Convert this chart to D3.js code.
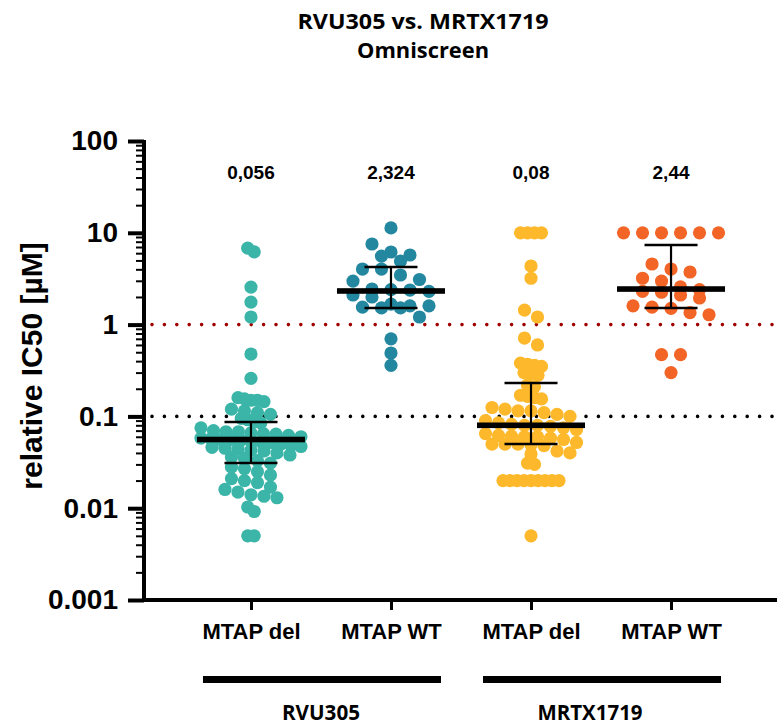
<!DOCTYPE html>
<html><head><meta charset="utf-8">
<script src="https://cdn.jsdelivr.net/npm/d3@7"></script>
<style>body{margin:0;background:#fff}svg{display:block}</style>
</head><body><svg id="chart" width="777" height="725"></svg>
<script>
// ---------- data ----------
const titleLines = ["RVU305 vs. MRTX1719", "Omniscreen"];
const yLabel = "relative IC50 [µM]";
const categories = ["MTAP del", "MTAP WT", "MTAP del", "MTAP WT"];
const drugs = ["RVU305", "MRTX1719"];
const drugOfGroup = [0, 0, 1, 1];
const medianLabels = ["0,056", "2,324", "0,08", "2,44"];
const medians = [0.056, 2.324, 0.08, 2.44];
const q1 = [0.031, 1.52, 0.05, 1.52];
const q3 = [0.087, 4.24, 0.231, 7.36];
const yTicks = [0.001, 0.01, 0.1, 1, 10, 100];
const yTickLabels = ["0.001", "0.01", "0.1", "1", "10", "100"];
const refLines = [1, 0.1];
const colors = ["#3bb5a8", "#22879f", "#fdb92b", "#f26526"];

const rvuDel = [6.8, 6.2, 2.56, 1.76, 1.21, 0.478, 0.26,
  0.16, 0.155, 0.15, 0.15, 0.145,
  0.12, 0.115, 0.11, 0.105,
  0.095, 0.092, 0.088, 0.085,
  0.075, 0.07, 0.068, 0.068, 0.066, 0.065, 0.064, 0.062,
  0.06, 0.058, 0.057, 0.056, 0.056, 0.055, 0.054, 0.053, 0.052, 0.05,
  0.048, 0.047, 0.046, 0.045, 0.044, 0.043, 0.042,
  0.04, 0.038, 0.036, 0.035, 0.033, 0.031,
  0.028, 0.027, 0.025, 0.023,
  0.021, 0.02, 0.019, 0.017, 0.016, 0.015,
  0.014, 0.0135, 0.013,
  0.0103, 0.0092,
  0.005, 0.005];
const rvuWt = [11.3, 7.55, 6.18, 5.73, 5.58, 4.93, 4.03, 4.03, 3.47, 3.1, 2.98,
  2.44, 2.4, 2.38, 2.3, 2.1, 2.0, 1.67, 1.6, 1.6, 1.55, 1.52, 1.52,
  1.21, 0.70, 0.49, 0.36];
const mrtxDel = [10, 10, 10, 10, 4.35, 3.2, 1.44, 1.21, 0.714, 0.60,
  0.38, 0.37, 0.36, 0.35,
  0.30, 0.29, 0.28,
  0.22, 0.21,
  0.17, 0.165, 0.16, 0.155,
  0.125, 0.12, 0.115, 0.115, 0.11, 0.105, 0.1,
  0.09, 0.085, 0.082, 0.08, 0.08, 0.078, 0.075, 0.072,
  0.065, 0.062, 0.061, 0.06, 0.06, 0.058, 0.056,
  0.052, 0.05, 0.05, 0.05, 0.049, 0.048,
  0.042, 0.04, 0.039,
  0.031, 0.03,
  0.02, 0.02, 0.02, 0.02, 0.02, 0.02, 0.02, 0.02, 0.02,
  0.005];
const mrtxWt = [10, 10, 10, 10, 10, 10,
  4.57, 4.03, 3.74, 3.2, 2.98, 2.57,
  2.4, 2.3, 2.25, 2.1, 1.95,
  1.6, 1.55, 1.5, 1.35, 1.28,
  0.47, 0.47, 0.30];
const groups = [rvuDel, rvuWt, mrtxDel, mrtxWt];

// ---------- layout ----------
const W = 777, H = 725;
const svg = d3.select("#chart");
svg.append("rect").attr("width", W).attr("height", H).attr("fill", "#fff");

const axisX0 = 144, axisX1 = 778, axisY = 600;
const y = d3.scaleLog().domain([0.001, 100]).range([600, 141]);
const x = d3.scalePoint().domain(d3.range(categories.length)).range([axisX0, axisX1]).padding(0.764);

const sansBold = "'Liberation Sans', Arial, sans-serif";

// title
svg.append("g").selectAll("text").data(titleLines).join("text")
  .attr("x", 423).attr("y", (d, i) => 29 + i * 29)
  .attr("text-anchor", "middle")
  .attr("font-family", "'Open Sans', sans-serif").attr("font-weight", 700)
  .attr("font-size", 21)
  .attr("textLength", (d, i) => i === 0 ? 251 : 132).attr("lengthAdjust", "spacingAndGlyphs")
  .text(d => d);

// reference dotted lines
svg.append("g").selectAll("line").data(refLines).join("line")
  .attr("x1", axisX0 + 8).attr("x2", W)
  .attr("y1", d => y(d)).attr("y2", d => y(d))
  .attr("stroke", (d, i) => i === 0 ? "#a00000" : "#000")
  .attr("stroke-width", 3.6).attr("stroke-linecap", "round")
  .attr("stroke-dasharray", "0 12.4");

// y axis minor ticks
const minor = [];
for (let e = -3; e < 2; e++) for (let m = 2; m <= 9; m++) minor.push(m * Math.pow(10, e));
const gMinor = svg.append("g").attr("transform", `translate(${axisX0},0)`)
  .call(d3.axisLeft(y).tickValues(minor).tickSize(8).tickSizeOuter(0).tickFormat(""));
gMinor.select(".domain").remove();
gMinor.selectAll(".tick line").attr("stroke", "#000").attr("stroke-width", 2);

const gY = svg.append("g").attr("transform", `translate(${axisX0},0)`)
  .call(d3.axisLeft(y).tickValues(yTicks).tickSize(16).tickSizeOuter(0)
    .tickPadding(10).tickFormat((d, i) => yTickLabels[i]));
gY.select(".domain").attr("stroke", "#000").attr("stroke-width", 4)
  .attr("d", `M0,${y(0.001) + 2}V${y(100) - 1}`);
gY.selectAll(".tick line").attr("stroke", "#000").attr("stroke-width", 4);
gY.selectAll(".tick text").attr("font-family", sansBold).attr("font-weight", 700)
  .attr("font-size", 28).attr("fill", "#000");

// y label
svg.append("text")
  .attr("transform", `translate(42,366) rotate(-90)`)
  .attr("text-anchor", "middle")
  .attr("font-family", sansBold).attr("font-weight", 700).attr("font-size", 30)
  .text(yLabel);

// x axis
const gX = svg.append("g").attr("transform", `translate(0,${axisY})`)
  .call(d3.axisBottom(x).tickSize(10).tickSizeOuter(0).tickPadding(13).tickFormat(i => categories[i]));
gX.select(".domain").attr("stroke", "#000").attr("stroke-width", 4)
  .attr("d", `M${axisX0 - 2},0H${W}`);
gX.selectAll(".tick line").attr("stroke", "#000").attr("stroke-width", 3);
gX.selectAll(".tick text").attr("font-family", sansBold).attr("font-weight", 700)
  .attr("font-size", 22).attr("fill", "#000");

// drug group bars and labels
const labelShift = [0, -11];
const drugSpan = drugs.map((d, k) => {
  const idx = d3.range(categories.length).filter(i => drugOfGroup[i] === k);
  const a = x(idx[0]), b = x(idx[idx.length - 1]);
  return { name: d, x0: a - 48, x1: b + 50, cx: (a + b) / 2 + labelShift[k] };
});
svg.append("g").selectAll("rect").data(drugSpan).join("rect")
  .attr("x", d => d.x0).attr("width", d => d.x1 - d.x0)
  .attr("y", 676).attr("height", 7).attr("fill", "#000");
svg.append("g").selectAll("text").data(drugSpan).join("text")
  .attr("x", d => d.cx).attr("y", 720)
  .attr("text-anchor", "middle")
  .attr("font-family", "'Open Sans', sans-serif").attr("font-weight", 700).attr("font-size", 21)
  .attr("textLength", (d, i) => i === 0 ? 78 : 105).attr("lengthAdjust", "spacingAndGlyphs")
  .text(d => d.name);

// beeswarm-like row layout (Prism style)
const spacing = [13, 19, 13, 19];
const tightSpacing = [6.5, 19, 7, 19];
const binH = [9, 12, 9, 12];
const maxW = [100, 100, 100, 100];
function layout(vals, gi) {
  const pts = vals.map(v => ({ v, py: y(v), g: gi })).sort((a, b) => a.py - b.py);
  const rows = []; let cur = null;
  pts.forEach(p => {
    if (cur && p.py - cur[0].py < binH[gi]) cur.push(p);
    else { cur = [p]; rows.push(cur); }
  });
  rows.forEach(r => {
    const n = r.length;
    const spread = r[n - 1].py - r[0].py;
    const base = (spread < 5) ? tightSpacing[gi] : spacing[gi];
    const s = n > 1 ? Math.min(base, maxW[gi] / (n - 1)) : 0;
    r.forEach((p, i) => { p.px = x(gi) + (i - (n - 1) / 2) * s; });
  });
  return pts;
}
const allPts = groups.flatMap((vals, gi) => layout(vals, gi));
svg.append("g").selectAll("circle").data(allPts).join("circle")
  .attr("cx", d => d.px).attr("cy", d => d.py).attr("r", 6.6)
  .attr("fill", d => colors[d.g]);

// median + IQR bars
const stats = d3.range(categories.length).map(i => ({ i, m: medians[i], lo: q1[i], hi: q3[i] }));
const gS = svg.append("g");
gS.selectAll(".v").data(stats).join("line")
  .attr("x1", d => x(d.i)).attr("x2", d => x(d.i))
  .attr("y1", d => y(d.hi)).attr("y2", d => y(d.lo))
  .attr("stroke", "#000").attr("stroke-width", 2.2);
gS.selectAll(".cap").data(stats.flatMap(d => [{ i: d.i, v: d.hi }, { i: d.i, v: d.lo }])).join("line")
  .attr("x1", d => x(d.i) - 26.5).attr("x2", d => x(d.i) + 26.5)
  .attr("y1", d => y(d.v)).attr("y2", d => y(d.v))
  .attr("stroke", "#000").attr("stroke-width", 2.5);
gS.selectAll("rect").data(stats).join("rect")
  .attr("x", d => x(d.i) - 54).attr("width", 108)
  .attr("y", d => y(d.m) - 2.8).attr("height", 5.6).attr("fill", "#000");

// median value labels
svg.append("g").selectAll("text").data(medianLabels).join("text")
  .attr("x", (d, i) => x(i)).attr("y", 179)
  .attr("text-anchor", "middle")
  .attr("font-family", sansBold).attr("font-weight", 700).attr("font-size", 19)
  .text(d => d);
</script>
</body></html>
